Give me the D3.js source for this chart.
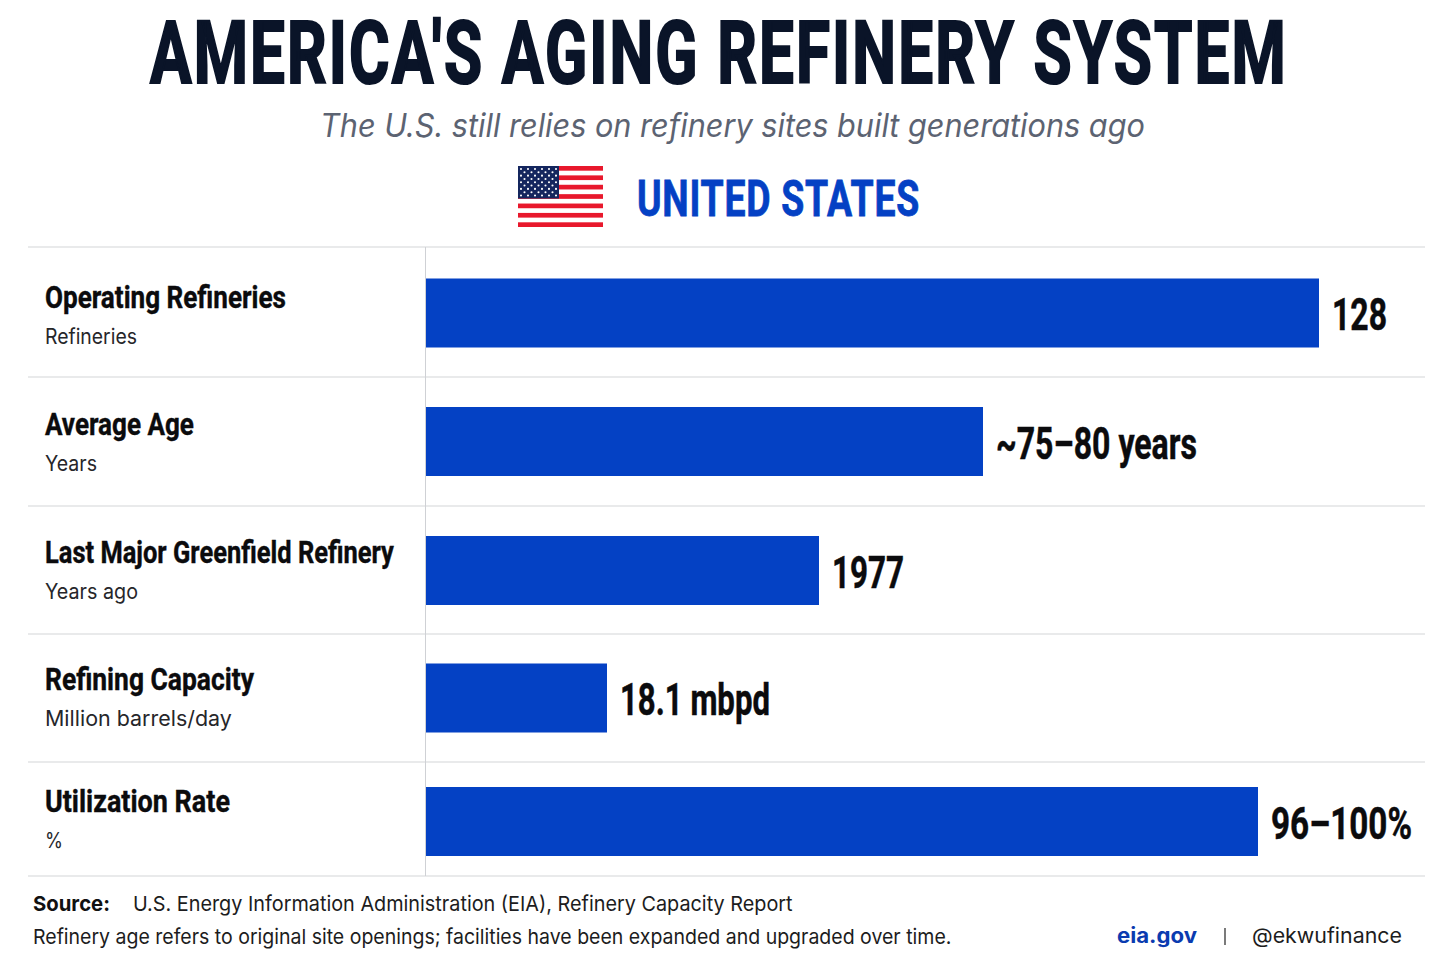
<!DOCTYPE html>
<html>
<head>
<meta charset="utf-8">
<script src="https://cdn.jsdelivr.net/npm/d3@7"></script>
<style>
    html, body { margin: 0; padding: 0; background: #fff; }
    svg { display: block; }
    .narrow { font-family: "Liberation Sans Narrow", "Roboto", sans-serif; font-weight: 700; }
    .body { font-family: "Inter", "Roboto", sans-serif; }
</style>
</head>
<body>
<svg id="chart" width="1456" height="971"></svg>
<script>
// chart values
let categories = ['Operating Refineries', 'Average Age', 'Last Major Greenfield Refinery', 'Refining Capacity', 'Utilization Rate'];
let units = ['Refineries', 'Years', 'Years ago', 'Million barrels/day', '%'];
let barIndex = [89.3, 55.7, 39.3, 18.1, 83.2]; // bars are not on one unit, length read off the picture
let valueLabels = ['128', '~75\u201380 years', '1977', '18.1 mbpd', '96\u2013100%'];

let Color = {
    Bar: '#0441c4',
    Title: '#0a1428',
    Sub: '#5c6372',
    Rule: '#e2e3e5',
    Red: '#e8182c',
    Navy: '#14265e'
};

let svg = d3.select('#chart');

let xScale = d3.scaleLinear().domain([0, 100]).range([426, 1426]);
let rowCenter = d3.scaleOrdinal().domain(categories).range([313, 441.5, 570.5, 698, 821.5]);
let ruleY = [247, 377, 506, 634, 762, 876];
let barHeight = 69;

// squeeze a text to the width measured on the reference, anchored at x,y
function fit(sel, x, y, width) {
    let natural = sel.node().getComputedTextLength();
    return sel.attr('transform', `translate(${x},${y}) scale(${width / natural},1)`);
}

// header
fit(svg.append('text')
    .attr('class', 'narrow')
    .attr('font-size', 88)
    .attr('letter-spacing', 3)
    .attr('fill', Color.Title)
    .attr('stroke', Color.Title)
    .attr('stroke-width', 2.2)
    .text("AMERICA'S AGING REFINERY SYSTEM"), 150, 83, 1138);

fit(svg.append('text')
    .attr('font-family', 'Inter, sans-serif')
    .attr('font-style', 'italic')
    .attr('font-size', 32)
    .attr('fill', Color.Sub)
    .text('The U.S. still relies on refinery sites built generations ago'), 320, 137, 825);

fit(svg.append('text')
    .attr('class', 'narrow')
    .attr('font-size', 50)
    .attr('letter-spacing', 1)
    .attr('fill', Color.Bar)
    .attr('stroke', Color.Bar)
    .attr('stroke-width', 0.8)
    .text('UNITED STATES'), 637, 216, 283);

// flag
let flag = svg.append('g').attr('transform', 'translate(518,166)');
let stripeY = d3.scaleBand().domain(d3.range(13)).range([0, 61]);
flag.selectAll('rect.stripe')
    .data(d3.range(13).filter(i => i % 2 === 0))
    .join('rect')
    .attr('class', 'stripe')
    .attr('x', 0)
    .attr('y', d => stripeY(d))
    .attr('width', 85)
    .attr('height', stripeY.bandwidth())
    .attr('fill', Color.Red);
flag.append('rect')
    .attr('width', 41).attr('height', 32.5)
    .attr('fill', Color.Navy);
let starX = d3.scalePoint().domain(d3.range(11)).range([3, 38]);
let starY = d3.scalePoint().domain(d3.range(9)).range([3, 29.5]);
flag.selectAll('circle')
    .data(d3.cross(d3.range(11), d3.range(9)).filter(d => (d[0] + d[1]) % 2 === 0))
    .join('circle')
    .attr('cx', d => starX(d[0]))
    .attr('cy', d => starY(d[1]))
    .attr('r', 1.05)
    .attr('fill', '#fff');

// rules
svg.selectAll('line.rule')
    .data(ruleY)
    .join('line')
    .attr('class', 'rule')
    .attr('x1', 28).attr('x2', 1425)
    .attr('y1', d => d).attr('y2', d => d)
    .attr('stroke', Color.Rule)
    .attr('stroke-width', 1.5);

svg.append('line')
    .attr('x1', 425.5).attr('x2', 425.5)
    .attr('y1', 247).attr('y2', 876)
    .attr('stroke', '#cfd1d5')
    .attr('stroke-width', 1);

// bars
svg.selectAll('rect.bar')
    .data(barIndex)
    .join('rect')
    .attr('class', 'bar')
    .attr('x', xScale(0))
    .attr('y', (d, i) => rowCenter(categories[i]) - barHeight / 2)
    .attr('width', d => xScale(d) - xScale(0))
    .attr('height', barHeight)
    .attr('fill', Color.Bar);

// row labels
let labelBaseOffset = [-5, -7, -8, -8, -10];
let unitBaseOffset = [31, 29, 28, 28, 26];
let labelWidth = [241, 149, 349, 209, 185];
let unitWidth = [92, 52, 93, 187, 18];
let valueWidth = [55, 201, 72, 150, 141];

categories.forEach((c, i) => {
    fit(svg.append('text')
        .attr('class', 'label narrow')
        .attr('font-size', 31)
        .attr('fill', '#0b0b0d')
        .attr('stroke', '#0b0b0d')
        .attr('stroke-width', 0.4)
        .text(c), 45, rowCenter(c) + labelBaseOffset[i], labelWidth[i]);

    fit(svg.append('text')
        .attr('class', 'unit body')
        .attr('font-size', 21)
        .attr('fill', '#26262a')
        .text(units[i]), 45, rowCenter(c) + unitBaseOffset[i], unitWidth[i]);

    fit(svg.append('text')
        .attr('class', 'value narrow')
        .attr('font-size', 44)
        .attr('fill', '#0b0b0d')
        .attr('stroke', '#0b0b0d')
        .attr('stroke-width', 0.5)
        .text(valueLabels[i]), xScale(barIndex[i]) + 13, rowCenter(c) + 17, valueWidth[i]);
});

// footer
function footer(x, y, str, width, weight, fill) {
    fit(svg.append('text')
        .attr('class', 'body')
        .attr('font-size', 20.5)
        .attr('font-weight', weight)
        .attr('fill', fill)
        .text(str), x, y, width);
}
footer(33, 911, 'Source:', 77, 700, '#111');
footer(133, 911, 'U.S. Energy Information Administration (EIA), Refinery Capacity Report', 660, 400, '#1c1c20');
footer(33, 944, 'Refinery age refers to original site openings; facilities have been expanded and upgraded over time.', 919, 400, '#1c1c20');
footer(1117, 943, 'eia.gov', 80, 700, '#0a3bb0');
footer(1252, 943, '@ekwufinance', 150, 400, '#1c1c20');

svg.append('line')
    .attr('x1', 1225).attr('x2', 1225)
    .attr('y1', 928).attr('y2', 945)
    .attr('stroke', '#333')
    .attr('stroke-width', 1.3);
</script>
</body>
</html>
